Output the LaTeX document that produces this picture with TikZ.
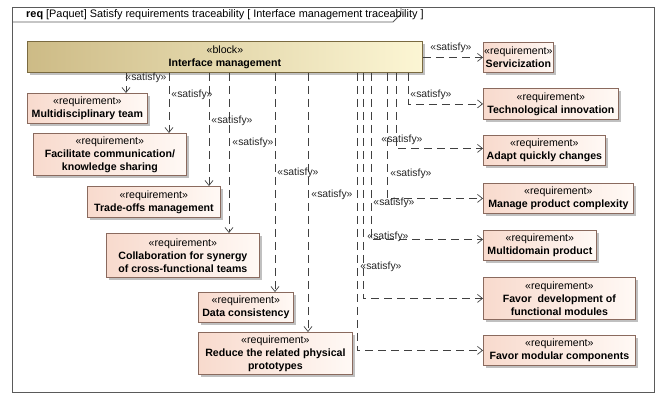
\documentclass[tikz,border=0pt]{standalone}
\usepackage{fontspec}
\setmainfont{Liberation Sans}
\usetikzlibrary{arrows.meta,shadows}
\definecolor{reqL}{HTML}{F8DACD}
\definecolor{reqR}{HTML}{FFF9F5}
\definecolor{reqB}{HTML}{8A6A5E}
\definecolor{blkL}{HTML}{CDBB86}
\definecolor{blkR}{HTML}{FCF6D4}
\definecolor{blkB}{HTML}{7A6A40}
\definecolor{lineC}{HTML}{404040}
\definecolor{frameC}{HTML}{5A5A5A}
\begin{document}
\begin{tikzpicture}[x=1pt,y=-1pt,
  box/.style={draw=reqB, line width=0.8pt, anchor=north west, align=center, inner sep=0pt,
    font=\fontsize{10.6}{13}\selectfont,
    drop shadow={shadow xshift=2.5pt, shadow yshift=-2.5pt, fill=black!45, opacity=0.55}},
  req/.style={box, left color=reqL, right color=reqR},
  blk/.style={box, draw=blkB, left color=blkL, right color=blkR},
  sat/.style={draw=lineC, line width=0.7pt, dash pattern=on 8pt off 5pt,
    -{Straight Barb[length=5pt,width=8pt,line width=0.7pt]}},
  lbl/.style={font=\fontsize{10.4}{12}\selectfont, inner sep=0pt, text=black!85}]
\useasboundingbox (0,0) rectangle (657,394);
% frame
\draw[frameC, line width=0.8pt] (12,7) rectangle (654,392);
\draw[frameC, line width=0.8pt] (12,22) -- (393,22) -- (401,14) -- (401,7);
\node[anchor=west, inner sep=0pt, font=\fontsize{10.9}{12}\selectfont] (hdr) at (26,14.5) {\textbf{req} [Paquet] Satisfy requirements traceability [ Interface management traceability ]};
% block
\node[blk, minimum width=395pt, minimum height=31pt] (blk) at (27,41) {«block»\\\textbf{Interface management}};
% left requirements
\node[req, minimum width=120pt, minimum height=30pt] (mdt) at (27,93) {«requirement»\\\textbf{Multidisciplinary team}};
\node[req, minimum width=153pt, minimum height=42pt] (fac) at (33,133) {«requirement»\\\textbf{Facilitate communication/}\\\textbf{knowledge sharing}};
\node[req, minimum width=133pt, minimum height=31pt] (tro) at (87,186) {«requirement»\\\textbf{Trade-offs management}};
\node[req, minimum width=153pt, minimum height=44pt] (col) at (106,233) {«requirement»\\\textbf{Collaboration for synergy}\\\textbf{of cross-functional teams}};
\node[req, minimum width=95pt, minimum height=30pt] (dat) at (198,292) {«requirement»\\\textbf{Data consistency}};
\node[req, minimum width=154pt, minimum height=42pt] (red) at (198,332) {«requirement»\\\textbf{Reduce the related physical}\\\textbf{prototypes}};
% right requirements
\node[req, minimum width=70pt, minimum height=30pt] (srv) at (483,42) {«requirement»\\\textbf{Servicization}};
\node[req, minimum width=135pt, minimum height=31pt] (tec) at (483,88) {«requirement»\\\textbf{Technological innovation}};
\node[req, minimum width=122pt, minimum height=30pt] (ada) at (483,135) {«requirement»\\\textbf{Adapt quickly changes}};
\node[req, minimum width=150pt, minimum height=30pt] (man) at (483,183) {«requirement»\\\textbf{Manage product complexity}};
\node[req, minimum width=113pt, minimum height=30pt] (mul) at (483,230) {«requirement»\\\textbf{Multidomain product}};
\node[req, minimum width=152pt, minimum height=42pt] (fdv) at (483,277) {«requirement»\\\textbf{Favor\ \ development of}\\\textbf{functional modules}};
\node[req, minimum width=152pt, minimum height=30pt] (fmc) at (483,335) {«requirement»\\\textbf{Favor modular components}};
% x positions of connectors
\coordinate (x1) at (126,0);
\coordinate (x2) at (169,0);
\coordinate (x3) at (209,0);
\coordinate (x4) at (229,0);
\coordinate (x5) at (275,0);
\coordinate (x6) at (308,0);
\coordinate (r1) at (408,0);
\coordinate (r2) at (396,0);
\coordinate (r3) at (387,0);
\coordinate (r4) at (371,0);
\coordinate (r5) at (363,0);
\coordinate (r6) at (357,0);
% left connectors
\draw[sat] (blk.south -| x1) -- (mdt.north -| x1);
\draw[sat] (blk.south -| x2) -- (fac.north -| x2);
\draw[sat] (blk.south -| x3) -- (tro.north -| x3);
\draw[sat] (blk.south -| x4) -- (col.north -| x4);
\draw[sat] (blk.south -| x5) -- (dat.north -| x5);
\draw[sat] (blk.south -| x6) -- (red.north -| x6);
% right connectors
\draw[sat] (srv.west -| blk.east) -- (srv.west);
\draw[sat] (blk.south -| r1) |- (tec.west);
\draw[sat] (blk.south -| r2) |- ([yshift=2pt]ada.west);
\draw[sat] (blk.south -| r3) |- (man.west);
\draw[sat] (blk.south -| r4) |- ([yshift=6pt]mul.west);
\draw[sat] (blk.south -| r5) |- (fdv.west);
\draw[sat] (blk.south -| r6) |- (fmc.west);
% labels
\node[lbl] (l1) at (146,77.5) {«satisfy»};
\node[lbl] (l2) at (192,95) {«satisfy»};
\node[lbl] (l3) at (232,121) {«satisfy»};
\node[lbl] (l4) at (253,143) {«satisfy»};
\node[lbl] (l5) at (298,173) {«satisfy»};
\node[lbl] (l6) at (332,195) {«satisfy»};
\node[lbl] (m1) at (451,48) {«satisfy»};
\node[lbl] (m2) at (431,95) {«satisfy»};
\node[lbl] (m3) at (402,140) {«satisfy»};
\node[lbl] (m4) at (411,174) {«satisfy»};
\node[lbl] (m5) at (394,203) {«satisfy»};
\node[lbl] (m6) at (388,237) {«satisfy»};
\node[lbl] (m7) at (381,267) {«satisfy»};
\end{tikzpicture}
\end{document}
